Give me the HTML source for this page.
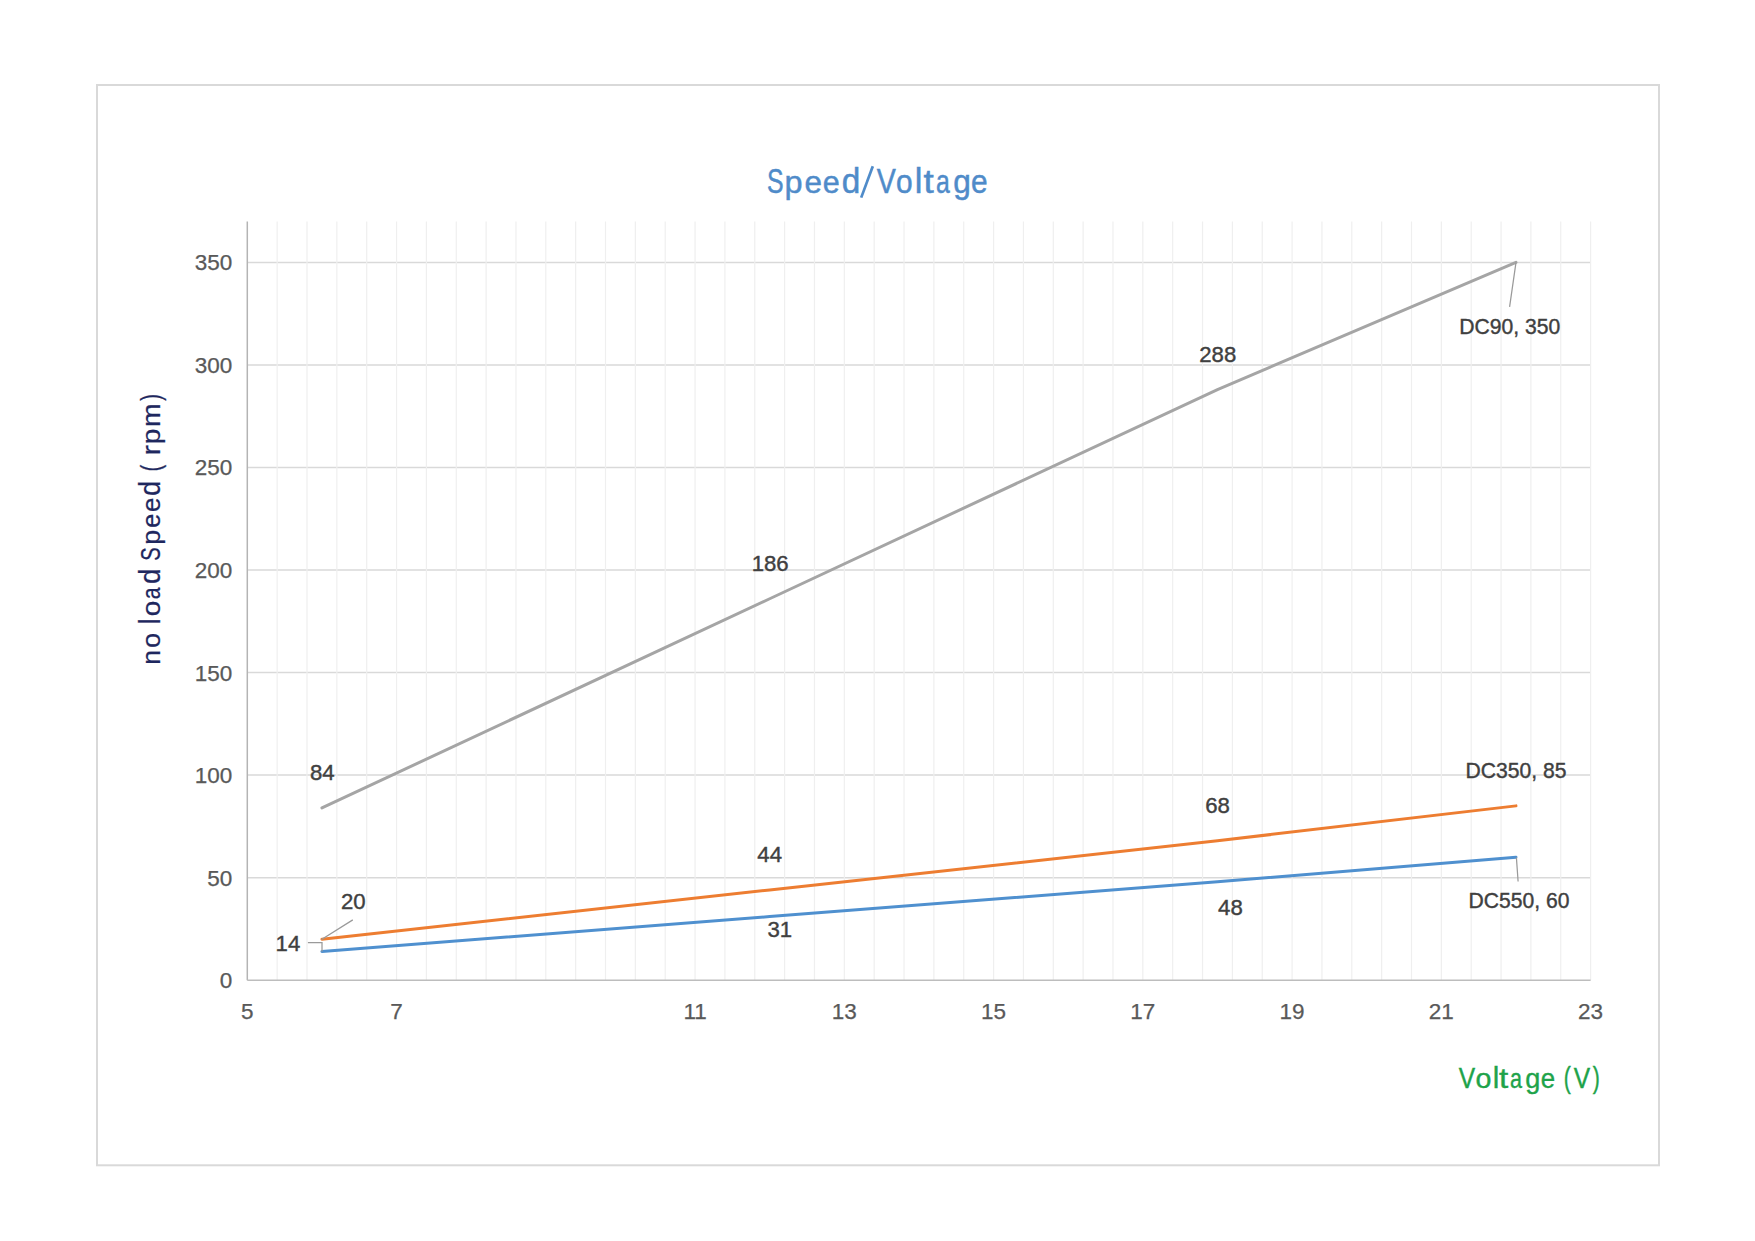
<!DOCTYPE html>
<html><head><meta charset="utf-8"><title>Speed/Voltage</title>
<style>html,body{margin:0;padding:0;background:#fff;width:1755px;height:1241px;overflow:hidden}
svg{position:absolute;left:0;top:0;font-family:"Liberation Sans", sans-serif}</style></head>
<body><svg width="1755" height="1241" viewBox="0 0 1755 1241">
<rect x="97" y="85" width="1562" height="1080.3" fill="none" stroke="#d9d9d9" stroke-width="2"/>
<path d="M247.3 877.66H1590.60M247.3 775.11H1590.60M247.3 672.57H1590.60M247.3 570.03H1590.60M247.3 467.49H1590.60M247.3 364.94H1590.60M247.3 262.40H1590.60" stroke="#d9d9d9" stroke-width="1.5" fill="none"/>
<path d="M277.15 221.5V980.2M307.00 221.5V980.2M336.85 221.5V980.2M366.70 221.5V980.2M396.56 221.5V980.2M426.41 221.5V980.2M456.26 221.5V980.2M486.11 221.5V980.2M515.96 221.5V980.2M545.81 221.5V980.2M575.66 221.5V980.2M605.51 221.5V980.2M635.36 221.5V980.2M665.22 221.5V980.2M695.07 221.5V980.2M724.92 221.5V980.2M754.77 221.5V980.2M784.62 221.5V980.2M814.47 221.5V980.2M844.32 221.5V980.2M874.17 221.5V980.2M904.02 221.5V980.2M933.88 221.5V980.2M963.73 221.5V980.2M993.58 221.5V980.2M1023.43 221.5V980.2M1053.28 221.5V980.2M1083.13 221.5V980.2M1112.98 221.5V980.2M1142.83 221.5V980.2M1172.68 221.5V980.2M1202.54 221.5V980.2M1232.39 221.5V980.2M1262.24 221.5V980.2M1292.09 221.5V980.2M1321.94 221.5V980.2M1351.79 221.5V980.2M1381.64 221.5V980.2M1411.49 221.5V980.2M1441.34 221.5V980.2M1471.20 221.5V980.2M1501.05 221.5V980.2M1530.90 221.5V980.2M1560.75 221.5V980.2M1590.60 221.5V980.2" stroke="#efefef" stroke-width="1.2" fill="none"/>
<path d="M247.3 221.5V980.2" stroke="#b4b4b4" stroke-width="1.5" fill="none"/>
<path d="M247.3 980.2H1590.60" stroke="#bdbdbd" stroke-width="1.5" fill="none"/>
<text x="232.2" y="988.20" text-anchor="end" font-size="22.5" fill="#595959" stroke="#595959" stroke-width="0.25">0</text>
<text x="232.2" y="885.66" text-anchor="end" font-size="22.5" fill="#595959" stroke="#595959" stroke-width="0.25">50</text>
<text x="232.2" y="783.11" text-anchor="end" font-size="22.5" fill="#595959" stroke="#595959" stroke-width="0.25">100</text>
<text x="232.2" y="680.57" text-anchor="end" font-size="22.5" fill="#595959" stroke="#595959" stroke-width="0.25">150</text>
<text x="232.2" y="578.03" text-anchor="end" font-size="22.5" fill="#595959" stroke="#595959" stroke-width="0.25">200</text>
<text x="232.2" y="475.49" text-anchor="end" font-size="22.5" fill="#595959" stroke="#595959" stroke-width="0.25">250</text>
<text x="232.2" y="372.94" text-anchor="end" font-size="22.5" fill="#595959" stroke="#595959" stroke-width="0.25">300</text>
<text x="232.2" y="270.40" text-anchor="end" font-size="22.5" fill="#595959" stroke="#595959" stroke-width="0.25">350</text>
<text x="247.30" y="1018.8" text-anchor="middle" font-size="22.5" fill="#595959" stroke="#595959" stroke-width="0.25">5</text>
<text x="396.56" y="1018.8" text-anchor="middle" font-size="22.5" fill="#595959" stroke="#595959" stroke-width="0.25">7</text>
<text x="695.07" y="1018.8" text-anchor="middle" font-size="22.5" fill="#595959" stroke="#595959" stroke-width="0.25">11</text>
<text x="844.32" y="1018.8" text-anchor="middle" font-size="22.5" fill="#595959" stroke="#595959" stroke-width="0.25">13</text>
<text x="993.58" y="1018.8" text-anchor="middle" font-size="22.5" fill="#595959" stroke="#595959" stroke-width="0.25">15</text>
<text x="1142.83" y="1018.8" text-anchor="middle" font-size="22.5" fill="#595959" stroke="#595959" stroke-width="0.25">17</text>
<text x="1292.09" y="1018.8" text-anchor="middle" font-size="22.5" fill="#595959" stroke="#595959" stroke-width="0.25">19</text>
<text x="1441.34" y="1018.8" text-anchor="middle" font-size="22.5" fill="#595959" stroke="#595959" stroke-width="0.25">21</text>
<text x="1590.60" y="1018.8" text-anchor="middle" font-size="22.5" fill="#595959" stroke="#595959" stroke-width="0.25">23</text>
<polyline points="321.93,807.93 769.69,598.74 1217.46,389.55 1515.97,262.40" fill="none" stroke="#a5a5a5" stroke-width="3" stroke-linejoin="round" stroke-linecap="round"/>
<polyline points="321.93,939.18 769.69,889.96 1217.46,840.74 1515.97,805.88" fill="none" stroke="#ed7d31" stroke-width="3" stroke-linejoin="round" stroke-linecap="round"/>
<polyline points="321.93,951.49 769.69,916.62 1217.46,881.76 1515.97,857.15" fill="none" stroke="#4f90cf" stroke-width="3" stroke-linejoin="round" stroke-linecap="round"/>
<path d="M1516 262.3L1509.6 306.9M321.5 939.5L352.8 919.9M307.9 942.5H322V951.5M1516.4 857.5L1518.1 881.5" stroke="#9a9a9a" stroke-width="1.25" fill="none"/>
<text x="322.3" y="780" text-anchor="middle" font-size="22.2" fill="#404040" stroke="#404040" stroke-width="0.4">84</text>
<text x="770.2" y="570.8" text-anchor="middle" font-size="22.2" fill="#404040" stroke="#404040" stroke-width="0.4">186</text>
<text x="1217.8" y="361.9" text-anchor="middle" font-size="22.2" fill="#404040" stroke="#404040" stroke-width="0.4">288</text>
<text x="1509.8" y="334" text-anchor="middle" font-size="22.2" fill="#404040" stroke="#404040" stroke-width="0.4" textLength="101" lengthAdjust="spacingAndGlyphs">DC90, 350</text>
<text x="353.3" y="908.8" text-anchor="middle" font-size="22.2" fill="#404040" stroke="#404040" stroke-width="0.4">20</text>
<text x="769.7" y="861.7" text-anchor="middle" font-size="22.2" fill="#404040" stroke="#404040" stroke-width="0.4">44</text>
<text x="1217.5" y="813.1" text-anchor="middle" font-size="22.2" fill="#404040" stroke="#404040" stroke-width="0.4">68</text>
<text x="1516.1" y="778.1" text-anchor="middle" font-size="22.2" fill="#404040" stroke="#404040" stroke-width="0.4" textLength="101" lengthAdjust="spacingAndGlyphs">DC350, 85</text>
<text x="287.9" y="950.5" text-anchor="middle" font-size="22.2" fill="#404040" stroke="#404040" stroke-width="0.4">14</text>
<text x="779.8" y="936.7" text-anchor="middle" font-size="22.2" fill="#404040" stroke="#404040" stroke-width="0.4">31</text>
<text x="1230.4" y="915" text-anchor="middle" font-size="22.2" fill="#404040" stroke="#404040" stroke-width="0.4">48</text>
<text x="1518.9" y="907.5" text-anchor="middle" font-size="22.2" fill="#404040" stroke="#404040" stroke-width="0.4" textLength="101" lengthAdjust="spacingAndGlyphs">DC550, 60</text>
<g font-size="34.5" fill="#4f8bc9" stroke="#4f8bc9" stroke-width="0.5"><text transform="translate(775.25 192.90) scale(0.720 0.994)" x="-11.47" y="0">S</text><text transform="translate(794.00 192.90) scale(0.940 0.926)" x="-10.01" y="0">p</text><text transform="translate(813.20 192.90) scale(0.910 0.918)" x="-9.57" y="0">e</text><text transform="translate(831.10 192.90) scale(0.885 0.918)" x="-9.57" y="0">e</text><text transform="translate(850.60 192.90) scale(0.966 1.011)" x="-9.14" y="0">d</text><path d="M861.2 197.6L872.8 166.2" stroke="#4f8bc9" stroke-width="2.7" fill="none"/><text transform="translate(886.25 192.90) scale(0.828 0.991)" x="-11.47" y="0">V</text><text transform="translate(904.20 192.90) scale(0.867 0.939)" x="-9.57" y="0">o</text><text transform="translate(918.55 192.90) scale(1.000 1.027)" x="-3.79" y="0">l</text><text transform="translate(928.80 192.90) scale(1.068 0.971)" x="-4.92" y="0">t</text><text transform="translate(943.50 192.90) scale(0.720 0.939)" x="-10.35" y="0">a</text><text transform="translate(961.60 192.90) scale(0.915 0.948)" x="-9.14" y="0">g</text><text transform="translate(979.25 192.90) scale(0.866 0.939)" x="-9.57" y="0">e</text></g>
<g font-size="29.4" fill="#1ea34a" stroke="#1ea34a" stroke-width="0.4"><text transform="translate(1466.85 1087.90) scale(0.836 0.981)" x="-9.78" y="0">V</text><text transform="translate(1483.40 1087.90) scale(0.974 0.939)" x="-8.16" y="0">o</text><text transform="translate(1495.90 1087.90) scale(1.000 0.999)" x="-3.23" y="0">l</text><text transform="translate(1503.75 1087.90) scale(1.134 0.954)" x="-4.19" y="0">t</text><text transform="translate(1516.50 1087.90) scale(0.734 0.939)" x="-8.82" y="0">a</text><text transform="translate(1532.40 1087.90) scale(0.922 0.935)" x="-7.79" y="0">g</text><text transform="translate(1547.80 1087.90) scale(0.878 0.926)" x="-8.16" y="0">e</text><text transform="translate(1567.85 1087.90) scale(0.720 1.000)" x="-5.66" y="0">(</text><text transform="translate(1581.95 1087.90) scale(0.836 0.981)" x="-9.78" y="0">V</text><text transform="translate(1595.65 1087.90) scale(0.720 1.000)" x="-4.12" y="0">)</text></g>
<g transform="translate(160.1 663.5) rotate(-90)"><g font-size="28" fill="#1e275e" stroke="#1e275e" stroke-width="0.25"><text transform="translate(6.05 0.00) scale(0.950 0.933)" x="-7.77" y="0">n</text><text transform="translate(22.95 0.00) scale(0.970 0.933)" x="-7.77" y="0">o</text><text transform="translate(42.10 0.00) scale(1.000 1.025)" x="-3.08" y="0">l</text><text transform="translate(55.05 0.00) scale(1.000 0.933)" x="-7.77" y="0">o</text><text transform="translate(70.75 0.00) scale(0.763 0.933)" x="-8.40" y="0">a</text><text transform="translate(86.85 0.00) scale(0.992 1.025)" x="-7.42" y="0">d</text><text transform="translate(109.55 0.00) scale(0.720 1.015)" x="-9.31" y="0">S</text><text transform="translate(126.45 0.00) scale(0.960 0.941)" x="-8.12" y="0">p</text><text transform="translate(142.75 0.00) scale(0.899 0.933)" x="-7.77" y="0">e</text><text transform="translate(158.65 0.00) scale(0.929 0.933)" x="-7.77" y="0">e</text><text transform="translate(174.80 0.00) scale(0.952 1.025)" x="-7.42" y="0">d</text><text transform="translate(195.90 0.00) scale(0.720 1.000)" x="-5.39" y="0">(</text><text transform="translate(213.85 0.00) scale(1.071 0.933)" x="-5.32" y="0">r</text><text transform="translate(227.30 0.00) scale(1.000 0.941)" x="-8.12" y="0">p</text><text transform="translate(248.30 0.00) scale(1.010 0.933)" x="-11.62" y="0">m</text><text transform="translate(265.50 0.00) scale(0.720 1.000)" x="-3.92" y="0">)</text></g></g>
</svg></body></html>
